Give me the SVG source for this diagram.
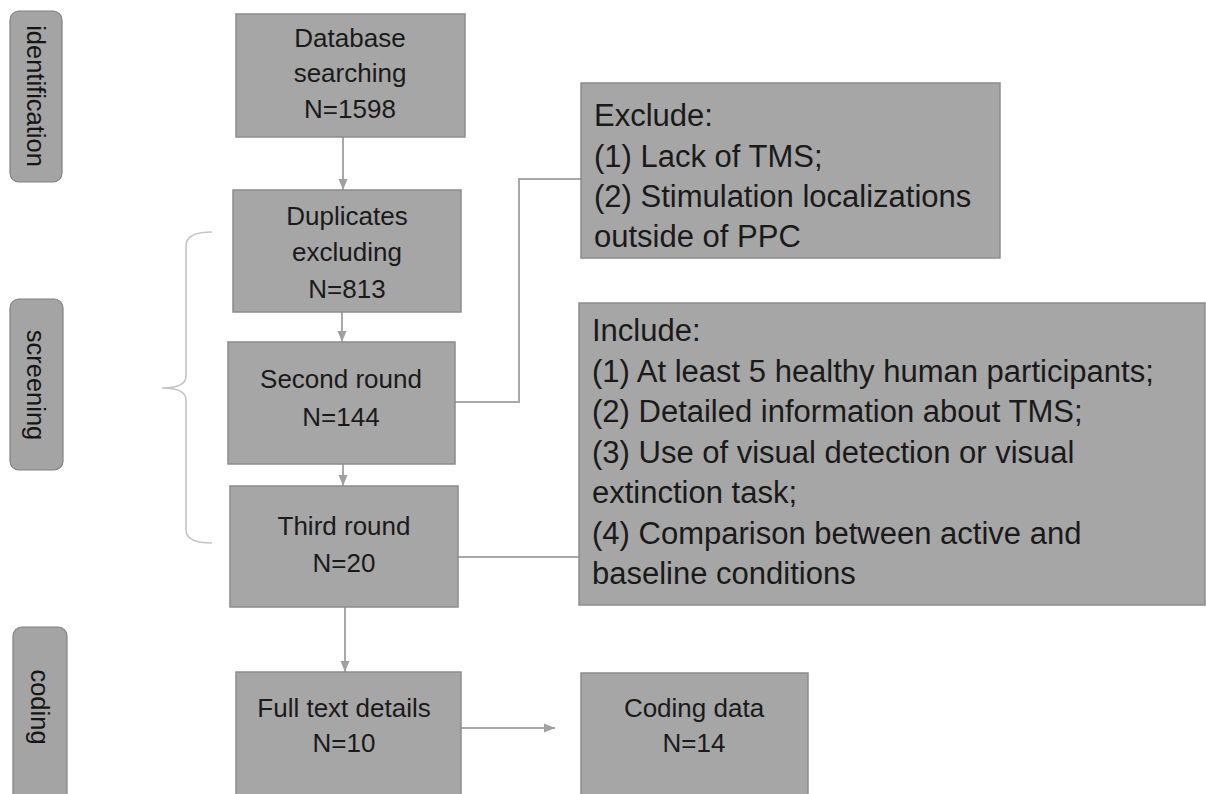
<svg xmlns="http://www.w3.org/2000/svg" width="1206" height="794" viewBox="0 0 1206 794">
<style>
.box{fill:#a6a6a6;stroke:#8c8c8c;stroke-width:1.5}
.lab{fill:#a4a4a4;stroke:#808080;stroke-width:1.2}
.t{font-family:"Liberation Sans",Arial,sans-serif;font-size:26px;fill:#1a1a1a;text-anchor:middle}
.r{font-family:"Liberation Sans",Arial,sans-serif;font-size:31px;fill:#1a1a1a}
.s{font-family:"Liberation Sans",Arial,sans-serif;font-size:25.5px;fill:#151515;text-anchor:middle;dominant-baseline:central}
.c{fill:none;stroke:#a8a8a8;stroke-width:2}
.br{fill:none;stroke:#c4c4c4;stroke-width:1.6}
</style>
<defs>
<marker id="ah" markerUnits="userSpaceOnUse" markerWidth="12" markerHeight="12" viewBox="0 0 12 12" refX="11" refY="6" orient="auto">
<path d="M0,1.5 L11,6 L0,10.5 Z" fill="#a0a0a0"/>
</marker>
</defs>
<rect width="1206" height="794" fill="#ffffff"/>

<g id="stage-identification">
<rect class="lab" x="10" y="11" width="52" height="171" rx="9"/>
<text class="s" transform="translate(36,96) rotate(90)">identification</text>
</g>
<g id="stage-screening">
<rect class="lab" x="10" y="299" width="53" height="171" rx="9"/>
<text class="s" transform="translate(36,385) rotate(90)">screening</text>
</g>
<g id="stage-coding">
<rect class="lab" x="13" y="627" width="54" height="180" rx="9"/>
<text class="s" transform="translate(40,707) rotate(90)">coding</text>
</g>

<g id="connectors">
<line class="c" x1="343" y1="137" x2="343" y2="190" marker-end="url(#ah)"/>
<line class="c" x1="342" y1="312" x2="342" y2="342" marker-end="url(#ah)"/>
<line class="c" x1="343" y1="464" x2="343" y2="486" marker-end="url(#ah)"/>
<line class="c" x1="345" y1="607" x2="345" y2="672" marker-end="url(#ah)"/>
<line class="c" x1="461" y1="728" x2="555" y2="728" marker-end="url(#ah)"/>
<polyline class="c" points="455,402 519,402 519,179 581,179"/>
<line class="c" x1="458" y1="557" x2="579" y2="557"/>
<path class="br" d="M212,232 Q186,232 186,246 L186,376 Q186,388 162,388 Q186,388 186,400 L186,530 Q186,543 212,543"/>
</g>

<g id="database-searching">
<rect class="box" x="236" y="14" width="229" height="123"/>
<text class="t" x="350" y="47">Database</text>
<text class="t" x="350" y="82">searching</text>
<text class="t" x="350" y="118">N=1598</text>
</g>
<g id="duplicates-excluding">
<rect class="box" x="233" y="190" width="228" height="122"/>
<text class="t" x="347" y="225">Duplicates</text>
<text class="t" x="347" y="261">excluding</text>
<text class="t" x="347" y="298">N=813</text>
</g>
<g id="second-round">
<rect class="box" x="228" y="342" width="227" height="122"/>
<text class="t" x="341" y="388">Second round</text>
<text class="t" x="341" y="426">N=144</text>
</g>
<g id="third-round">
<rect class="box" x="230" y="486" width="228" height="121"/>
<text class="t" x="344" y="535">Third round</text>
<text class="t" x="344" y="572">N=20</text>
</g>
<g id="full-text-details">
<rect class="box" x="236" y="672" width="225" height="130"/>
<text class="t" x="344" y="717">Full text details</text>
<text class="t" x="344" y="752">N=10</text>
</g>
<g id="coding-data">
<rect class="box" x="581" y="673" width="227" height="130"/>
<text class="t" x="694" y="717">Coding data</text>
<text class="t" x="694" y="752">N=14</text>
</g>
<g id="exclude">
<rect class="box" x="581" y="83" width="419" height="175"/>
<text class="r" x="594" y="126">Exclude:</text>
<text class="r" x="594" y="167">(1) Lack of TMS;</text>
<text class="r" x="594" y="207">(2) Stimulation localizations</text>
<text class="r" x="594" y="247">outside of PPC</text>
</g>
<g id="include">
<rect class="box" x="579" y="303" width="626" height="302"/>
<text class="r" x="592" y="341">Include:</text>
<text class="r" x="592" y="382">(1) At least 5 healthy human participants;</text>
<text class="r" x="592" y="422">(2) Detailed information about TMS;</text>
<text class="r" x="592" y="463">(3) Use of visual detection or visual</text>
<text class="r" x="592" y="503">extinction task;</text>
<text class="r" x="592" y="544">(4) Comparison between active and</text>
<text class="r" x="592" y="584">baseline conditions</text>
</g>
</svg>
